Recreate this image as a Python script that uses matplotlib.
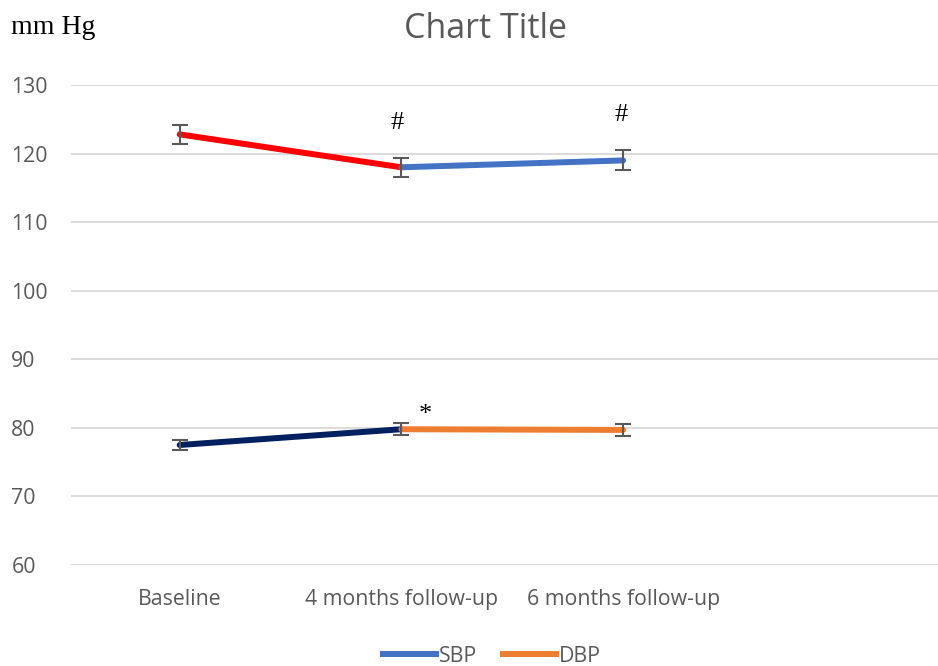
import matplotlib
matplotlib.use("Agg")
import matplotlib.pyplot as plt
from matplotlib.lines import Line2D
from matplotlib.patches import Rectangle

categories = ["Baseline", "4 months follow-up", "6 months follow-up", ""]
sbp = [122.8, 118.0, 119.0]
sbp_err = [1.4, 1.4, 1.45]
dbp = [77.5, 79.8, 79.7]
dbp_err = [0.8, 0.9, 0.9]
yticks = [60, 70, 80, 90, 100, 110, 120, 130]

sans = "Open Sans"
serif = "Liberation Serif"

grey = "#595959"
fig = plt.figure(figsize=(9.38, 6.66), dpi=100)
ax = fig.add_axes([71 / 938, (666 - 565) / 666, 1 - 71 / 938, (565 - 85) / 666])

x = list(range(3))
lw = 4.3
# SBP segments
ax.plot(x[0:2], sbp[0:2], color="#ff0000", lw=lw, solid_capstyle="round", zorder=3)
ax.plot(x[1:3], sbp[1:3], color="#4472c4", lw=lw, solid_capstyle="round", zorder=3)
ax.errorbar(x, sbp, yerr=sbp_err, fmt="none", ecolor=grey, elinewidth=1.5, capsize=5.5, capthick=1.5, zorder=4)
# DBP segments
ax.plot(x[0:2], dbp[0:2], color="#002060", lw=lw, solid_capstyle="round", zorder=3)
ax.plot(x[1:3], dbp[1:3], color="#ed7d31", lw=lw, solid_capstyle="round", zorder=3)
ax.errorbar(x, dbp, yerr=dbp_err, fmt="none", ecolor=grey, elinewidth=1.5, capsize=5.5, capthick=1.5, zorder=4)

ax.set_xlim(-0.49, 3.42)
ax.set_ylim(60, 130)
ax.set_yticks(yticks)
ax.set_xticks(range(4))
ax.set_xticklabels(categories)
ax.grid(axis="y", color="#d9d9d9", lw=1.3, zorder=0)
for s in ax.spines.values():
    s.set_visible(False)
ax.tick_params(length=0, labelsize=15.3, labelcolor=grey)
ax.tick_params(axis="x", pad=17)
ax.tick_params(axis="y", pad=43)
for lab in ax.get_xticklabels() + ax.get_yticklabels():
    lab.set_fontfamily(sans)
for lab in ax.get_yticklabels():
    lab.set_horizontalalignment("left")

# white text box behind the second mark, hiding part of the top gridline
ax.add_patch(Rectangle((1.86, 129.4), 0.26, 1.2, fc="white", ec="none", zorder=1, clip_on=False))

# significance marks
ax.text(0.98, 124.5, "#", ha="center", va="center", fontsize=19, family=serif, color="black", zorder=5)
ax.text(1.99, 125.6, "#", ha="center", va="center", fontsize=19, family=serif, color="black", zorder=5)
ax.text(1.11, 81.9, "*", ha="center", va="center", fontsize=19, family=serif, color="black", zorder=5)

fig.text(486 / 938, 1 - 29 / 666, "Chart Title", ha="center", va="center", fontsize=24.5,
         color=grey, family=sans)
fig.text(11 / 938, 1 - 28 / 666, "mm Hg", ha="left", va="center", fontsize=20,
         color="black", family=serif)

handles = [Line2D([], [], color="#4472c4", lw=lw), Line2D([], [], color="#ed7d31", lw=lw)]
fig.legend(handles, ["SBP", "DBP"], loc="center", bbox_to_anchor=(492 / 938, 1 - 656 / 666),
           ncol=2, frameon=False, prop={"family": sans, "size": 15.3}, labelcolor=grey,
           handlelength=2.5, handletextpad=0.15, columnspacing=1.2)

fig.savefig("out.png", dpi=100)
